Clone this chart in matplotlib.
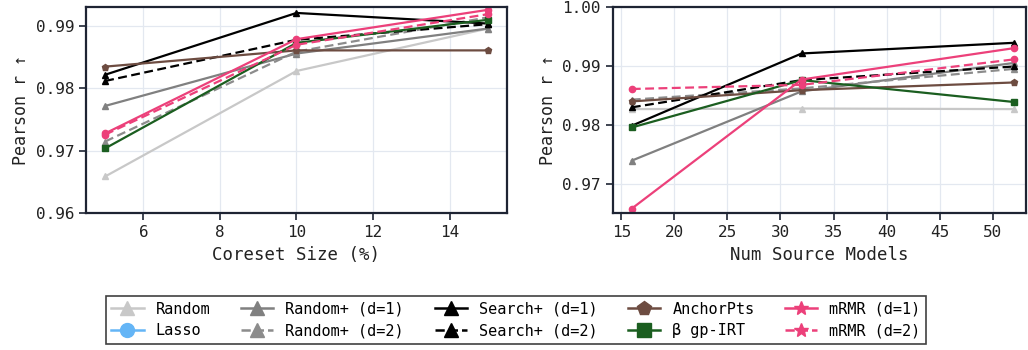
import matplotlib
matplotlib.use("Agg")
import matplotlib.pyplot as plt
from matplotlib.lines import Line2D

plt.rcParams['font.family'] = ['DejaVu Sans Mono', 'DejaVu Sans']

# x values for the two panels
coreset_sizes = [5, 10, 15]
num_sources = [16, 32, 52]

# Pearson r vs coreset size (%)
coreset_r = {
    'Random':        [0.9659, 0.9828, 0.9896],
    'Random+ (d=1)': [0.9772, 0.9856, 0.9896],
    'Random+ (d=2)': [0.9715, 0.9859, 0.9914],
    'Search+ (d=1)': [0.9822, 0.9921, 0.9904],
    'Search+ (d=2)': [0.9812, 0.9878, 0.9903],
    'AnchorPts':     [0.9835, 0.9861, 0.9861],
    'β gp-IRT':      [0.9704, 0.9873, 0.9910],
    'mRMR (d=1)':    [0.9728, 0.9879, 0.9926],
    'mRMR (d=2)':    [0.9726, 0.9870, 0.9919],
}

# Pearson r vs number of source models
sources_r = {
    'Random':        [0.9827, 0.9828, 0.9827],
    'Random+ (d=1)': [0.9740, 0.9857, 0.9905],
    'Random+ (d=2)': [0.9843, 0.9862, 0.9895],
    'Search+ (d=1)': [0.9799, 0.9921, 0.9939],
    'Search+ (d=2)': [0.9830, 0.9876, 0.9899],
    'AnchorPts':     [0.9840, 0.9859, 0.9872],
    'β gp-IRT':      [0.9796, 0.9876, 0.9839],
    'mRMR (d=1)':    [0.9659, 0.9877, 0.9930],
    'mRMR (d=2)':    [0.9861, 0.9868, 0.9911],
}

# method -> (colour, marker, linestyle)
styles = {
    'Random':        ('#c8c8c8', '^', '-'),
    'Lasso':         ('#64b5f6', 'o', '-'),
    'Random+ (d=1)': ('#808080', '^', '-'),
    'Random+ (d=2)': ('#8c8c8c', '^', '--'),
    'Search+ (d=1)': ('#000000', '^', '-'),
    'Search+ (d=2)': ('#000000', '^', '--'),
    'AnchorPts':     ('#6d4c41', 'p', '-'),
    'β gp-IRT':      ('#1b5e20', 's', '-'),
    'mRMR (d=1)':    ('#ec407a', 'o', '-'),
    'mRMR (d=2)':    ('#ec407a', 'o', '--'),
}
legend_markers = {'mRMR (d=1)': '*', 'mRMR (d=2)': '*'}

spine_col = '#1e2433'

fig = plt.figure(figsize=(10.28, 3.5), dpi=100)
ax1 = fig.add_axes([86 / 1028, 1 - 213.3 / 350, 421 / 1028, 206.6 / 350])
ax2 = fig.add_axes([612.7 / 1028, 1 - 213.3 / 350, 413 / 1028, 206.6 / 350])


def draw(ax, xs, data):
    for name, ys in data.items():
        c, m, ls = styles[name]
        ax.plot(xs, ys, color=c, marker=m, linestyle=ls, lw=1.6,
                markersize=4.5, dashes=(4, 2) if ls == '--' else (None, None))
    ax.grid(True, color='#e3e8f0', lw=0.9)
    ax.set_axisbelow(True)
    for s in ax.spines.values():
        s.set_color(spine_col)
        s.set_linewidth(1.6)
    ax.tick_params(direction='out', length=5, width=1.2, color=spine_col,
                   labelsize=11.5, labelcolor='#222222')
    ax.set_ylabel('Pearson r ↑', fontsize=12, color='#222222')


draw(ax1, coreset_sizes, coreset_r)
ax1.set_xlim(4.5, 15.5)
ax1.set_ylim(0.96, 0.9931)
ax1.set_yticks([0.96, 0.97, 0.98, 0.99])
ax1.set_xticks([6, 8, 10, 12, 14])
ax1.set_xlabel('Coreset Size (%)', fontsize=12.5, color='#222222')

draw(ax2, num_sources, sources_r)
ax2.set_xlim(14.2, 53.1)
ax2.set_ylim(0.9651, 1.0)
ax2.set_yticks([0.97, 0.98, 0.99, 1.00])
ax2.set_yticklabels(['0.97', '0.98', '0.99', '1.00'])
ax2.set_xticks([15, 20, 25, 30, 35, 40, 45, 50])
ax2.set_xlabel('Num Source Models', fontsize=12.5, color='#222222')

handles = []
for name, (c, m, ls) in styles.items():
    handles.append(Line2D([], [], color=c, marker=legend_markers.get(name, m),
                          linestyle=ls, lw=1.8, markersize=10,
                          label=name))
leg = fig.legend(handles=handles, ncol=5, loc='center',
                 bbox_to_anchor=(516 / 1028, 1 - 320 / 350),
                 fontsize=11, frameon=True, fancybox=False,
                 edgecolor='#111111', handlelength=2.1, columnspacing=2.0,
                 borderpad=0.35, labelspacing=0.45, handletextpad=0.8)
leg.get_frame().set_linewidth(1.2)

fig.savefig('out.png', dpi=100)
